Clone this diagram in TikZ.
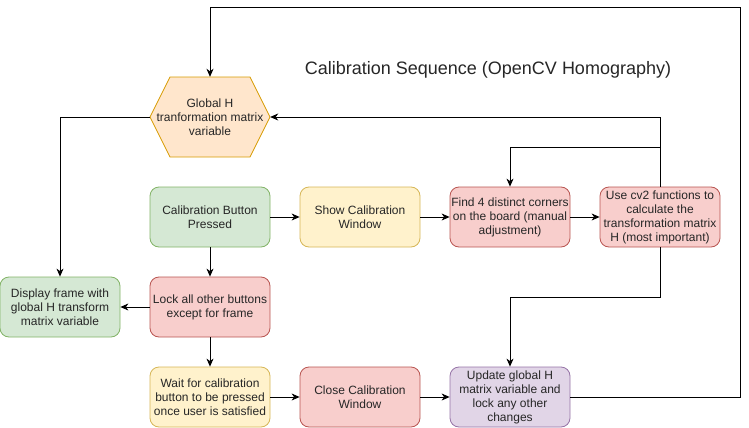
\documentclass[tikz,border=0pt]{standalone}
\usepackage{fontspec}
\setmainfont{Liberation Sans}
\usetikzlibrary{
  arrows.meta,
  calc,
}
\definecolor{greenfill}{HTML}{D5E8D4}
\definecolor{greenline}{HTML}{82B366}
\definecolor{yellowfill}{HTML}{FFF2CC}
\definecolor{yellowline}{HTML}{D6B656}
\definecolor{redfill}{HTML}{F8CECC}
\definecolor{redline}{HTML}{B85450}
\definecolor{purplefill}{HTML}{E1D5E7}
\definecolor{purpleline}{HTML}{9673A6}
\definecolor{orangefill}{HTML}{FFE6CC}
\definecolor{orangeline}{HTML}{D79B00}
\tikzset{
  >={Stealth[length=8pt,width=7pt,inset=2.5pt]},
  box/.style={draw, rounded corners=9pt, line width=0.8pt, inner sep=0pt,
    minimum width=120pt, minimum height=60pt, align=center,
    text=black!85, font=\fontsize{12}{14}\selectfont},
  greenbox/.style={box, draw=greenline, fill=greenfill},
  yellowbox/.style={box, draw=yellowline, fill=yellowfill},
  redbox/.style={box, draw=redline, fill=redfill},
  purplebox/.style={box, draw=purpleline, fill=purplefill},
  flow/.style={->, line width=0.8pt},
}

\begin{document}
\begin{tikzpicture}[x=1pt, y=-1pt]
      \useasboundingbox (0, 0) rectangle (749, 428);
      \node [text=black!85, font=\fontsize{18}{20}\selectfont] (title) at (488, 70) {Calibration Sequence (OpenCV Homography)};

      % hexagon for the shared variable
      \draw [draw=orangeline, fill=orangefill, line width=0.8pt] (150, 117) -- (170, 77) -- (250, 77) -- (270, 117) -- (250, 157) -- (170, 157) -- cycle;
      \node [align=center, minimum width=120pt, minimum height=80pt, inner sep=0pt, text=black!85, font=\fontsize{12}{14}\selectfont] (glob) at (210, 117) {Global H\\tranformation matrix\\variable};

      \node [greenbox] (press) at (210, 217) {Calibration Button\\Pressed};
      \node [yellowbox] (show) at (360, 217) {Show Calibration\\Window};
      \node [redbox] (find) at (510, 217) {Find 4 distinct corners\\on the board (manual\\adjustment)};
      \node [redbox] (cvtwo) at (660, 217) {Use cv2 functions to\\calculate the\\transformation matrix\\H (most important)};
      \node [greenbox] (disp) at (60, 307) {Display frame with\\global H transform\\matrix variable};
      \node [redbox] (lock) at (210, 307) {Lock all other buttons\\except for frame};
      \node [yellowbox] (wait) at (210, 397) {Wait for calibration\\button to be pressed\\once user is satisfied};
      \node [redbox] (close) at (360, 397) {Close Calibration\\Window};
      \node [purplebox] (upd) at (510, 397) {Update global H\\matrix variable and\\lock any other\\changes};

      \coordinate (fork) at (660, 147);
      \coordinate (bend) at (510, 297);
      \coordinate (loopR) at (740, 7);

      \draw [flow] (glob.west) -| (disp.north);
      \draw [flow] (press) -- (show);
      \draw [flow] (show) -- (find);
      \draw [flow] (find) -- (cvtwo);
      \draw [flow] (press) -- (lock);
      \draw [flow] (lock) -- (disp);
      \draw [flow] (lock) -- (wait);
      \draw [flow] (wait) -- (close);
      \draw [flow] (close) -- (upd);
      \draw [flow] (cvtwo.north) |- (glob.east);
      \draw [flow] (fork) -| (find.north);
      \draw [flow] (cvtwo.south) |- (bend) -- (upd.north);
      \draw [flow] (upd.east) -| (loopR) -| (glob.north);
    \end{tikzpicture}
\end{document}
